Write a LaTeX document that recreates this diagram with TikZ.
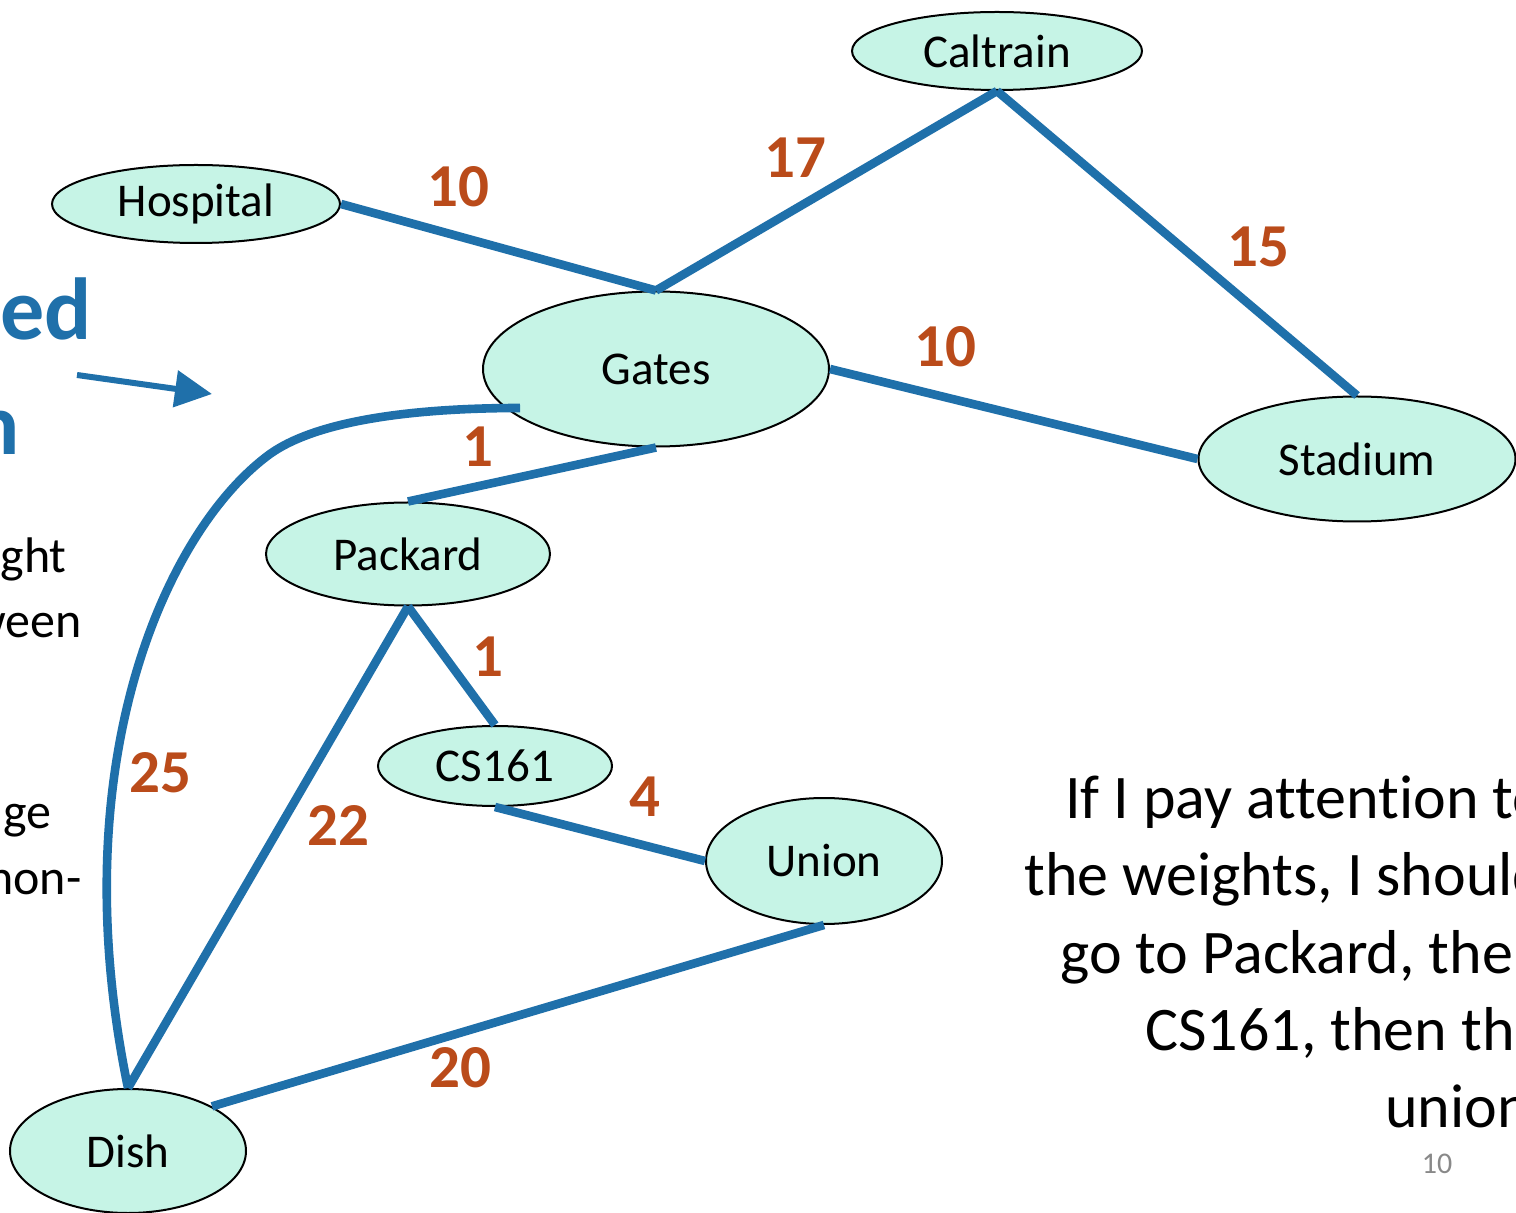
\documentclass[tikz,border=0pt]{standalone}
\usepackage{fontspec}
\setmainfont{Carlito}[Ligatures=NoCommon]
\usepackage{tikz}
\usetikzlibrary{shapes.geometric}
\usetikzlibrary{arrows.meta}

\definecolor{roadblue}{RGB}{31,112,170}
\definecolor{weightorange}{RGB}{186,75,26}
\definecolor{placemint}{RGB}{198,244,230}
\definecolor{pagegray}{RGB}{137,137,137}

\begin{document}
\begin{tikzpicture}[x=0.5pt, y=-0.5pt,
  place/.style={ellipse, draw=black, line width=1pt, fill=placemint, inner sep=0pt, font=\fontsize{23.5}{28}\selectfont},
  road/.style={draw=roadblue, line width=4.3pt},
  weight/.style={text=weightorange, inner sep=0pt, font=\fontsize{30.5}{36}\selectfont\bfseries},
  slide/.style={anchor=base east, inner sep=0pt, font=\fontsize{31}{38}\selectfont},
  side/.style={anchor=base east, inner sep=0pt, font=\fontsize{25}{31}\selectfont}]
  \useasboundingbox (0,0) rectangle (1516,1213);
  \clip (0,0) rectangle (1516,1213);
  \fill[white] (0,0) rectangle (1516,1213);

  \node[anchor=base east, inner sep=0pt, text=roadblue, font=\fontsize{44}{52}\selectfont\bfseries] at (92,340) (title1) { Weighted };
  \node[anchor=base east, inner sep=0pt, text=roadblue, font=\fontsize{44}{52}\selectfont\bfseries] at (20,455) (title2) { graph };

  \node[side] at (67,573) (txtweight) { weight };
  \node[side] at (82,638) (txtbetween) { between };
  \node[side] at (52,828) (txtedge) { edge };
  \node[side] at (82,894) (txtnon) { non- };

  \coordinate (arrowtail) at (77,375);
  \coordinate (arrowtip) at (212,394);
  \draw[roadblue, line width=3pt, -{Triangle[length=18.5pt, width=18pt]}] (arrowtail) -- (arrowtip);

  \node[place, minimum width=145pt, minimum height=39pt] at (997,51) (caltrain) { Caltrain };
  \node[place, minimum width=144pt, minimum height=39pt] at (196,204) (hospital) { Hospital };
  \node[place, minimum width=173pt, minimum height=77.5pt] at (656,369) (gates) { Gates };
  \node[place, minimum width=158.5pt, minimum height=62.5pt] at (1357,459) (stadium) { Stadium };
  \node[place, minimum width=142pt, minimum height=51.5pt] at (408,554) (packard) { Packard };
  \node[place, minimum width=117pt, minimum height=40pt] at (495,766) (cs) { CS161 };
  \node[place, minimum width=118pt, minimum height=63pt] at (824,861) (union) { Union };
  \node[place, minimum width=118pt, minimum height=62pt] at (128,1151) (dish) { Dish };

  \draw[road] (hospital.east) -- (gates.north);
  \draw[road] (gates.north) -- (caltrain.south);
  \draw[road] (caltrain.south) -- (stadium.north);
  \draw[road] (gates.east) -- (stadium.west);
  \draw[road] (gates.south) -- (packard.north);
  \draw[road] (packard.south) -- (cs.north);
  \draw[road] (cs.south) -- (union.west);
  \draw[road] (union.south) -- (dish.28);
  \draw[road] (packard.south) -- (dish.north);

  \coordinate (hook) at (520,408);
  \coordinate (turn) at (270,454);
  \draw[road] (hook) .. controls (420,408) and (319,419) .. (turn) .. controls (168,528) and (60,760) .. (dish.north);

  \node[weight] at (458,187) (w1) { 10 };
  \node[weight] at (795,158) (w2) { 17 };
  \node[weight] at (1258,247) (w3) { 15 };
  \node[weight] at (945,347) (w4) { 10 };
  \node[weight] at (478,447) (w5) { 1 };
  \node[weight] at (488,657) (w6) { 1 };
  \node[weight] at (645,797) (w7) { 4 };
  \node[weight] at (160,773) (w8) { 25 };
  \node[weight] at (338,825) (w9) { 22 };
  \node[weight] at (460,1068) (w10) { 20 };

  \node[slide] at (1546,818) (note1) { If I pay attention to };
  \node[slide] at (1546,895) (note2) { the weights, I should };
  \node[slide] at (1546,973) (note3) { go to Packard, then };
  \node[slide] at (1546,1050) (note4) { CS161, then the };
  \node[slide] at (1546,1127) (note5) { union. };

  \node[anchor=base, inner sep=0pt, text=pagegray, font=\fontsize{15}{18}\selectfont] at (1437,1173) (pagenum) { 10 };
\end{tikzpicture}
\end{document}
